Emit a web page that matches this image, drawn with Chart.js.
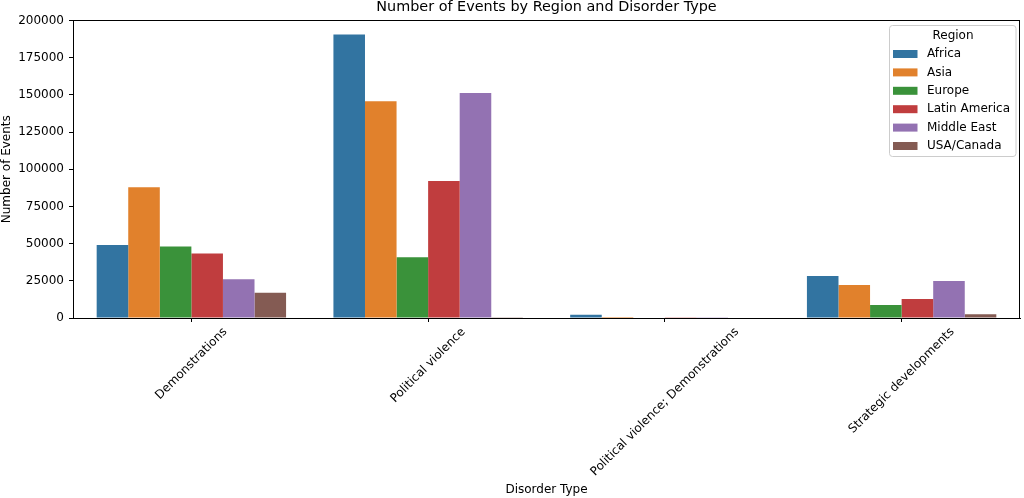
<!DOCTYPE html>
<html>
<head>
<meta charset="utf-8">
<script src="https://cdn.jsdelivr.net/npm/chart.js@4.4.0/dist/chart.umd.min.js"></script>
<style>
html,body{margin:0;padding:0;background:#fff;}
#wrap{width:1024px;height:498px;}
</style>
</head>
<body>
<div id="wrap"><canvas id="c" width="1024" height="498"></canvas></div>
<script>
const categories = ["Demonstrations", "Political violence", "Political violence; Demonstrations", "Strategic developments"];
const regions = ["Africa", "Asia", "Europe", "Latin America", "Middle East", "USA/Canada"];
const colors = ["#3274a1", "#e1812c", "#3a923a", "#c03d3e", "#9372b2", "#845b53"];
const africa = [49000, 190600, 2200, 28200];
const asia = [87800, 145600, 600, 22100];
const europe = [48000, 40900, 0, 8700];
const latinAmerica = [43400, 92000, 500, 12800];
const middleEast = [26000, 151200, 500, 24800];
const usaCanada = [17000, 500, 0, 2500];
const yTicks = [0, 25000, 50000, 75000, 100000, 125000, 150000, 175000, 200000];
const seriesValues = [africa, asia, europe, latinAmerica, middleEast, usaCanada];

const FONT = "DejaVu Sans";
const FS = 12;

const framePlugin = {
  id: 'frame',
  afterDraw(chart) {
    const ctx = chart.ctx;
    const a = chart.chartArea;
    ctx.save();
    ctx.strokeStyle = '#000';
    ctx.lineWidth = 1;
    ctx.strokeRect(Math.round(a.left) + 0.5, Math.round(a.top) + 0.5, Math.round(a.right - a.left) - 1, Math.round(a.bottom - a.top));
    ctx.restore();

    // rotated, centered x tick labels (matplotlib style)
    const xs = chart.scales.x;
    ctx.save();
    ctx.font = FS + "px '" + FONT + "'";
    ctx.fillStyle = '#000';
    ctx.textAlign = 'center';
    ctx.textBaseline = 'middle';
    const h = FS * 1.17;
    categories.forEach((lab, i) => {
      const x = xs.getPixelForTick(i);
      const w = ctx.measureText(lab).width;
      const half = (w + h) * Math.SQRT1_2 / 2;
      const cy = a.bottom + 7 + half;
      ctx.save();
      ctx.translate(x, cy);
      ctx.rotate(-Math.PI / 4);
      ctx.fillText(lab, 0, 0);
      ctx.restore();
    });
    ctx.restore();

    // legend
    const lx = 889.5, ly = 25.5, lw = 126.5, lh = 131;
    ctx.save();
    ctx.fillStyle = 'rgba(255,255,255,0.8)';
    ctx.strokeStyle = '#cccccc';
    ctx.lineWidth = 1;
    const r = 3;
    ctx.beginPath();
    ctx.moveTo(lx + r, ly);
    ctx.lineTo(lx + lw - r, ly);
    ctx.arcTo(lx + lw, ly, lx + lw, ly + r, r);
    ctx.lineTo(lx + lw, ly + lh - r);
    ctx.arcTo(lx + lw, ly + lh, lx + lw - r, ly + lh, r);
    ctx.lineTo(lx + r, ly + lh);
    ctx.arcTo(lx, ly + lh, lx, ly + lh - r, r);
    ctx.lineTo(lx, ly + r);
    ctx.arcTo(lx, ly, lx + r, ly, r);
    ctx.closePath();
    ctx.fill();
    ctx.stroke();
    ctx.font = FS + "px '" + FONT + "'";
    ctx.fillStyle = '#000';
    ctx.textBaseline = 'middle';
    ctx.textAlign = 'center';
    ctx.fillText('Region', 953, 36);
    ctx.textAlign = 'left';
    regions.forEach((reg, i) => {
      const yy = 54 + i * 18.4;
      ctx.fillStyle = colors[i];
      ctx.fillRect(893, yy - 4, 24.5, 8);
      ctx.fillStyle = '#000';
      ctx.fillText(reg, 927, yy);
    });
    ctx.restore();
  }
};

new Chart(document.getElementById('c'), {
  type: 'bar',
  data: {
    labels: categories,
    datasets: regions.map((reg, i) => ({
      label: reg,
      data: seriesValues[i],
      backgroundColor: colors[i],
      borderWidth: 0,
      categoryPercentage: 0.8,
      barPercentage: 1.0
    }))
  },
  options: {
    responsive: false,
    animation: false,
    devicePixelRatio: 1,
    layout: { padding: { left: 0, right: 4, top: 0, bottom: 0 } },
    font: { family: FONT, size: FS },
    plugins: {
      legend: { display: false },
      tooltip: { enabled: false },
      title: {
        display: true,
        text: 'Number of Events by Region and Disorder Type',
        color: '#000',
        fullSize: false,
        font: { family: FONT, size: 14.4, weight: 'normal', lineHeight: 1.0 },
        padding: { top: 0, bottom: 6 }
      }
    },
    scales: {
      x: {
        type: 'category',
        offset: true,
        grid: { display: true, drawOnChartArea: false, drawTicks: true, tickLength: 4, color: '#000', offset: false },
        border: { display: true, color: '#000' },
        ticks: { display: false },
        title: {
          display: true,
          text: 'Disorder Type',
          color: '#000',
          font: { family: FONT, size: FS, lineHeight: 1.2 },
          padding: { top: 0, bottom: 1 }
        },
        afterFit(scale) { scale.height = 180; }
      },
      y: {
        min: 0,
        max: 200000,
        afterBuildTicks(scale) { scale.ticks = yTicks.map(v => ({ value: v })); },
        grid: { display: true, drawOnChartArea: false, drawTicks: true, tickLength: 4, color: '#000' },
        border: { display: true, color: '#000' },
        ticks: {
          color: '#000',
          padding: 5,
          font: { family: FONT, size: FS },
          callback: (v) => String(v)
        },
        title: {
          display: true,
          text: 'Number of Events',
          color: '#000',
          font: { family: FONT, size: FS, lineHeight: 1.2 },
          padding: { top: 0, bottom: 0 }
        },
        afterFit(scale) { scale.width = 73; }
      }
    }
  },
  plugins: [framePlugin]
});
</script>
</body>
</html>
